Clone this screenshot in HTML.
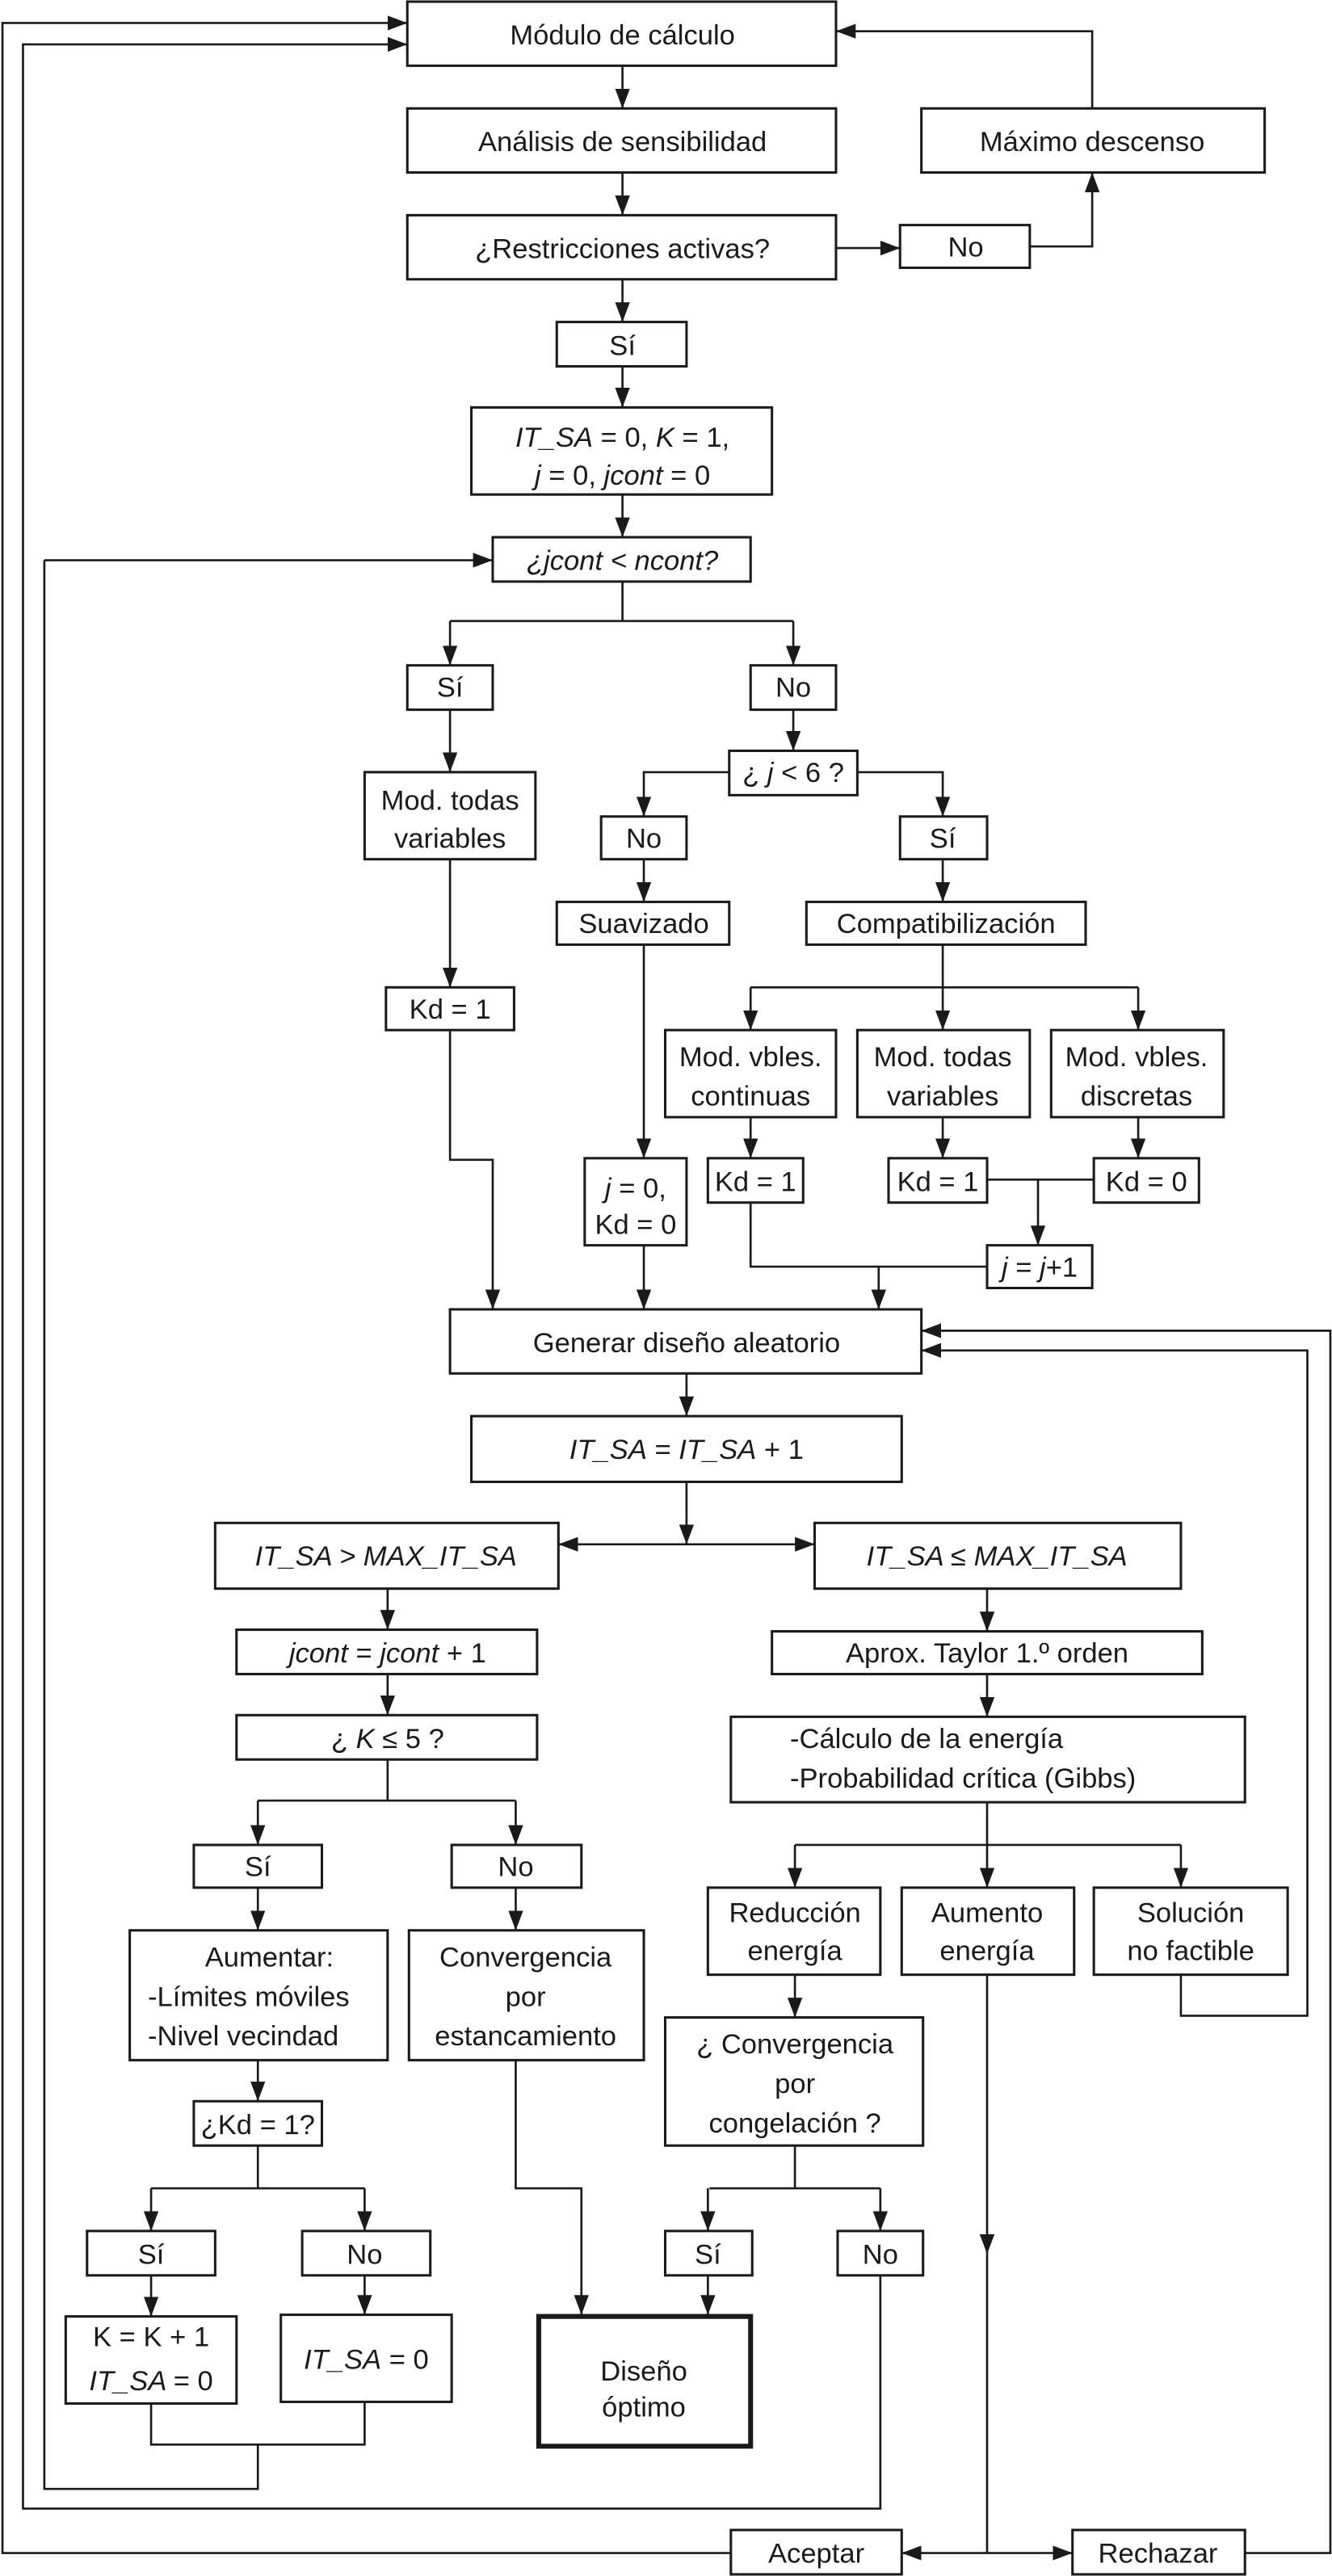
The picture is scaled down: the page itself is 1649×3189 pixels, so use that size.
<!DOCTYPE html>
<html><head><meta charset="utf-8"><style>html,body{margin:0;padding:0;background:#fff}svg{display:block}</style></head>
<body>
<svg xmlns="http://www.w3.org/2000/svg" width="1649" height="3189" viewBox="0 0 811 1568" preserveAspectRatio="none">
<defs>
<marker id="a" markerUnits="userSpaceOnUse" markerWidth="13" markerHeight="9" refX="12" refY="4.5" orient="auto"><path d="M0,0 L12,4.5 L0,9 z" fill="#1a1a1a"/></marker>
</defs>
<rect width="811" height="1568" fill="#fff"/>
<g fill="#fff" stroke="#1a1a1a" stroke-width="1.5">
<rect x="248" y="1" width="261" height="39"/>
<rect x="248" y="66" width="261" height="39"/>
<rect x="561" y="66" width="209" height="39"/>
<rect x="248" y="131" width="261" height="39"/>
<rect x="548" y="137" width="79" height="26"/>
<rect x="339" y="196" width="79" height="27"/>
<rect x="287" y="248" width="183" height="53"/>
<rect x="300" y="327" width="157" height="27"/>
<rect x="248" y="405" width="52" height="27"/>
<rect x="457" y="405" width="52" height="27"/>
<rect x="222" y="470" width="104" height="53"/>
<rect x="235" y="601" width="78" height="26"/>
<rect x="444" y="457" width="78" height="27"/>
<rect x="366" y="497" width="52" height="26"/>
<rect x="548" y="497" width="53" height="26"/>
<rect x="339" y="549" width="105" height="26"/>
<rect x="491" y="549" width="170" height="26"/>
<rect x="405" y="627" width="104" height="53"/>
<rect x="522" y="627" width="105" height="53"/>
<rect x="640" y="627" width="105" height="53"/>
<rect x="356" y="705" width="62" height="53"/>
<rect x="431" y="705" width="58" height="27"/>
<rect x="541" y="705" width="60" height="27"/>
<rect x="666" y="705" width="64" height="27"/>
<rect x="601" y="758" width="64" height="26"/>
<rect x="274" y="797" width="287" height="39"/>
<rect x="287" y="862" width="262" height="40"/>
<rect x="131" y="927" width="209" height="40"/>
<rect x="496" y="927" width="223" height="40"/>
<rect x="144" y="992" width="183" height="27"/>
<rect x="144" y="1044" width="183" height="27"/>
<rect x="118" y="1123" width="78" height="26"/>
<rect x="275" y="1123" width="79" height="26"/>
<rect x="79" y="1175" width="157" height="79"/>
<rect x="249" y="1175" width="143" height="79"/>
<rect x="118" y="1279" width="78" height="27"/>
<rect x="53" y="1358" width="78" height="27"/>
<rect x="184" y="1358" width="78" height="27"/>
<rect x="40" y="1410" width="104" height="53"/>
<rect x="171" y="1409" width="104" height="53"/>
<rect x="470" y="993" width="262" height="26"/>
<rect x="445" y="1045" width="313" height="52"/>
<rect x="431" y="1149" width="105" height="53"/>
<rect x="549" y="1149" width="105" height="53"/>
<rect x="666" y="1149" width="118" height="53"/>
<rect x="405" y="1228" width="157" height="78"/>
<rect x="405" y="1358" width="53" height="27"/>
<rect x="510" y="1358" width="52" height="27"/>
<rect x="445" y="1540" width="104" height="27"/>
<rect x="653" y="1540" width="105" height="27"/>
<rect x="328" y="1410" width="129" height="79" stroke-width="3"/>
</g>
<g fill="none" stroke="#1a1a1a" stroke-width="1.3">
<path d="M379,40V66" marker-end="url(#a)"/>
<path d="M379,105V131" marker-end="url(#a)"/>
<path d="M509,151H548" marker-end="url(#a)"/>
<path d="M627,150H665V105" marker-end="url(#a)"/>
<path d="M665,66V19H509" marker-end="url(#a)"/>
<path d="M379,170V196" marker-end="url(#a)"/>
<path d="M379,223V248" marker-end="url(#a)"/>
<path d="M379,301V327" marker-end="url(#a)"/>
<path d="M27,341H300" marker-end="url(#a)"/>
<path d="M379,354V378M274,378H483"/>
<path d="M274,378V405" marker-end="url(#a)"/>
<path d="M483,378V405" marker-end="url(#a)"/>
<path d="M274,432V470" marker-end="url(#a)"/>
<path d="M274,523V601" marker-end="url(#a)"/>
<path d="M274,627V706H300V797" marker-end="url(#a)"/>
<path d="M483,432V457" marker-end="url(#a)"/>
<path d="M444,470H392V497" marker-end="url(#a)"/>
<path d="M522,470H574V497" marker-end="url(#a)"/>
<path d="M392,523V549" marker-end="url(#a)"/>
<path d="M574,523V549" marker-end="url(#a)"/>
<path d="M392,575V705" marker-end="url(#a)"/>
<path d="M392,758V797" marker-end="url(#a)"/>
<path d="M574,575V601M457,601H693"/>
<path d="M457,601V627" marker-end="url(#a)"/>
<path d="M574,601V627" marker-end="url(#a)"/>
<path d="M693,601V627" marker-end="url(#a)"/>
<path d="M457,680V705" marker-end="url(#a)"/>
<path d="M574,680V705" marker-end="url(#a)"/>
<path d="M693,680V705" marker-end="url(#a)"/>
<path d="M601,718H666"/>
<path d="M632,718V758" marker-end="url(#a)"/>
<path d="M457,732V771H601"/>
<path d="M535,771V797" marker-end="url(#a)"/>
<path d="M418,836V862" marker-end="url(#a)"/>
<path d="M418,902V940" marker-end="url(#a)"/>
<path d="M418,940H496" marker-end="url(#a)"/>
<path d="M418,940H340" marker-end="url(#a)"/>
<path d="M236,967V992" marker-end="url(#a)"/>
<path d="M236,1019V1044" marker-end="url(#a)"/>
<path d="M236,1071V1096M157,1096H314"/>
<path d="M157,1096V1123" marker-end="url(#a)"/>
<path d="M314,1096V1123" marker-end="url(#a)"/>
<path d="M157,1149V1175" marker-end="url(#a)"/>
<path d="M314,1149V1175" marker-end="url(#a)"/>
<path d="M157,1254V1279" marker-end="url(#a)"/>
<path d="M157,1306V1332M92,1332H222"/>
<path d="M92,1332V1358" marker-end="url(#a)"/>
<path d="M222,1332V1358" marker-end="url(#a)"/>
<path d="M92,1385V1410" marker-end="url(#a)"/>
<path d="M222,1385V1409" marker-end="url(#a)"/>
<path d="M92,1463V1488H222V1462M157,1488V1515H27V341"/>
<path d="M314,1254V1332H354V1409" marker-end="url(#a)"/>
<path d="M601,967V993" marker-end="url(#a)"/>
<path d="M601,1019V1045" marker-end="url(#a)"/>
<path d="M601,1097V1123M484,1123H719"/>
<path d="M484,1123V1149" marker-end="url(#a)"/>
<path d="M601,1123V1149" marker-end="url(#a)"/>
<path d="M719,1123V1149" marker-end="url(#a)"/>
<path d="M484,1202V1228" marker-end="url(#a)"/>
<path d="M484,1306V1332M432,1332H536"/>
<path d="M431,1332V1358" marker-end="url(#a)"/>
<path d="M536,1332V1358" marker-end="url(#a)"/>
<path d="M431,1385V1409" marker-end="url(#a)"/>
<path d="M536,1385V1527H14V27H248" marker-end="url(#a)"/>
<path d="M445,1554H1.5V14H248" marker-end="url(#a)"/>
<path d="M601,1202V1372" marker-end="url(#a)"/>
<path d="M601,1372V1554"/>
<path d="M601,1554H549" marker-end="url(#a)"/>
<path d="M601,1554H653" marker-end="url(#a)"/>
<path d="M758,1554H810V810H561" marker-end="url(#a)"/>
<path d="M719,1202V1227H796V822H561" marker-end="url(#a)"/>
</g>
<g font-family="Liberation Sans, Arial, sans-serif" font-size="17" fill="#1a1a1a" text-anchor="middle">
<text x="379" y="27">Módulo de cálculo</text>
<text x="379" y="92">Análisis de sensibilidad</text>
<text x="665" y="92">Máximo descenso</text>
<text x="379" y="157">¿Restricciones activas?</text>
<text x="588" y="156">No</text>
<text x="379" y="216">Sí</text>
<text x="379" y="272"><tspan font-style="italic">IT_SA</tspan> = 0, <tspan font-style="italic">K</tspan> = 1,</text>
<text x="379" y="295"><tspan font-style="italic">j</tspan> = 0, <tspan font-style="italic">jcont</tspan> = 0</text>
<text x="379" y="347" font-style="italic">¿jcont &lt; ncont?</text>
<text x="274" y="424">Sí</text>
<text x="483" y="424">No</text>
<text x="274" y="493">Mod. todas</text>
<text x="274" y="516">variables</text>
<text x="274" y="620">Kd = 1</text>
<text x="483" y="476">¿ <tspan font-style="italic">j</tspan> &lt; 6 ?</text>
<text x="392" y="516">No</text>
<text x="574" y="516">Sí</text>
<text x="392" y="568">Suavizado</text>
<text x="576" y="568">Compatibilización</text>
<text x="457" y="649">Mod. vbles.</text>
<text x="457" y="673">continuas</text>
<text x="574" y="649">Mod. todas</text>
<text x="574" y="673">variables</text>
<text x="692" y="649">Mod. vbles.</text>
<text x="692" y="673">discretas</text>
<text x="387" y="729"><tspan font-style="italic">j</tspan> =  0,</text>
<text x="387" y="751">Kd = 0</text>
<text x="460" y="725">Kd = 1</text>
<text x="571" y="725">Kd = 1</text>
<text x="698" y="725">Kd = 0</text>
<text x="633" y="777"><tspan font-style="italic">j</tspan> = <tspan font-style="italic">j</tspan>+1</text>
<text x="418" y="823">Generar diseño aleatorio</text>
<text x="418" y="888"><tspan font-style="italic">IT_SA</tspan> = <tspan font-style="italic">IT_SA</tspan> + 1</text>
<text x="235" y="953" font-style="italic">IT_SA &gt; MAX_IT_SA</text>
<text x="607" y="953" font-style="italic">IT_SA ≤ MAX_IT_SA</text>
<text x="236" y="1012"><tspan font-style="italic">jcont</tspan>  = <tspan font-style="italic">jcont</tspan> + 1</text>
<text x="236" y="1064">¿ <tspan font-style="italic">K</tspan> ≤ 5 ?</text>
<text x="157" y="1142">Sí</text>
<text x="314" y="1142">No</text>
<text x="164" y="1197">Aumentar:</text>
<text x="90" y="1221" text-anchor="start">-Límites móviles</text>
<text x="90" y="1245" text-anchor="start">-Nivel vecindad</text>
<text x="320" y="1197">Convergencia</text>
<text x="320" y="1221">por</text>
<text x="320" y="1245">estancamiento</text>
<text x="157" y="1299">¿Kd = 1?</text>
<text x="92" y="1378">Sí</text>
<text x="222" y="1378">No</text>
<text x="92" y="1428">K = K + 1</text>
<text x="92" y="1455" font-style="italic">IT_SA <tspan font-style="normal">= 0</tspan></text>
<text x="223" y="1442"><tspan font-style="italic">IT_SA</tspan> = 0</text>
<text x="392" y="1449">Diseño</text>
<text x="392" y="1471">óptimo</text>
<text x="601" y="1012">Aprox. Taylor 1.º orden</text>
<text x="481" y="1064" text-anchor="start">-Cálculo de la energía</text>
<text x="481" y="1088" text-anchor="start">-Probabilidad crítica (Gibbs)</text>
<text x="484" y="1170">Reducción</text>
<text x="484" y="1193">energía</text>
<text x="601" y="1170">Aumento</text>
<text x="601" y="1193">energía</text>
<text x="725" y="1170">Solución</text>
<text x="725" y="1193">no factible</text>
<text x="484" y="1250">¿ Convergencia</text>
<text x="484" y="1274">por</text>
<text x="484" y="1298">congelación ?</text>
<text x="431" y="1378">Sí</text>
<text x="536" y="1378">No</text>
<text x="497" y="1560">Aceptar</text>
<text x="705" y="1560">Rechazar</text>
</g>
</svg>
</body></html>
